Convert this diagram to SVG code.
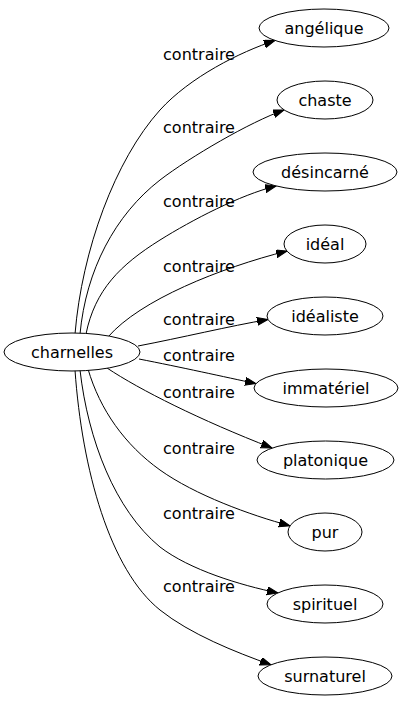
<svg xmlns="http://www.w3.org/2000/svg" width="402" height="707" viewBox="0 0 402 707">
<defs>
<style>
.n ellipse{fill:#fff;stroke:#000;stroke-width:1}
text{font-family:"DejaVu Sans",sans-serif;font-size:16px;fill:#000;text-anchor:middle}
.e path{fill:none;stroke:#000;stroke-width:1;marker-end:url(#ah)}
</style>
<marker id="ah" markerUnits="userSpaceOnUse" markerWidth="12" markerHeight="9" refX="11" refY="4" orient="auto">
<path d="M0,0 L11,4 L0,8 Z" fill="#000" stroke="#000" stroke-width="1"/>
</marker>
</defs>
<rect width="402" height="707" fill="#fff"/>
<g id="edges" class="e">
<path d="M75,334 C82,250 115,160 160,110 C190,77 240,52 275,40.5"/>
<path d="M80,334 C86,270 115,215 160,180 C190,157 250,122 284,110"/>
<path d="M86,334 C95,290 120,265 160,240 C192,220 240,195 276,186"/>
<path d="M108,337 C140,300 220,268 287,251"/>
<path d="M138,346 C180,338 230,326 268,319.5"/>
<path d="M139,359 C180,367 225,377 256,383.6"/>
<path d="M107,368 C140,390 200,420 272,448"/>
<path d="M88,369 C100,410 125,445 160,470 C195,495 250,515 290,525.8"/>
<path d="M80,370 C88,440 115,510 160,547 C190,570 240,585 278,593"/>
<path d="M75,370 C82,470 110,570 160,610 C190,634 235,652 271,664.8"/>
</g>
<g id="labels">
<text x="199" y="60">contraire</text>
<text x="199" y="133">contraire</text>
<text x="199" y="207">contraire</text>
<text x="199" y="272">contraire</text>
<text x="199" y="325">contraire</text>
<text x="199" y="361">contraire</text>
<text x="199" y="398">contraire</text>
<text x="199" y="454">contraire</text>
<text x="199" y="519">contraire</text>
<text x="199" y="592">contraire</text>
</g>
<g id="charnelles" class="n"><ellipse cx="72" cy="352" rx="68" ry="19"/><text x="72" y="358">charnelles</text></g>
<g id="angelique" class="n"><ellipse cx="324" cy="28" rx="65" ry="19"/><text x="324" y="34">angélique</text></g>
<g id="chaste" class="n"><ellipse cx="325" cy="100" rx="48" ry="19"/><text x="325" y="106">chaste</text></g>
<g id="desincarne" class="n"><ellipse cx="325" cy="172" rx="72" ry="19"/><text x="325" y="178">désincarné</text></g>
<g id="ideal" class="n"><ellipse cx="325" cy="244" rx="41" ry="19"/><text x="325" y="250">idéal</text></g>
<g id="idealiste" class="n"><ellipse cx="325" cy="316" rx="58" ry="19"/><text x="325" y="322">idéaliste</text></g>
<g id="immateriel" class="n"><ellipse cx="326" cy="388" rx="72" ry="19"/><text x="326" y="394">immatériel</text></g>
<g id="platonique" class="n"><ellipse cx="325.5" cy="460" rx="68.5" ry="19"/><text x="325.5" y="466">platonique</text></g>
<g id="pur" class="n"><ellipse cx="325" cy="532" rx="37" ry="19"/><text x="325" y="538">pur</text></g>
<g id="spirituel" class="n"><ellipse cx="325" cy="604" rx="58" ry="19"/><text x="325" y="610">spirituel</text></g>
<g id="surnaturel" class="n"><ellipse cx="325" cy="676" rx="67" ry="19"/><text x="325" y="682">surnaturel</text></g>
</svg>
